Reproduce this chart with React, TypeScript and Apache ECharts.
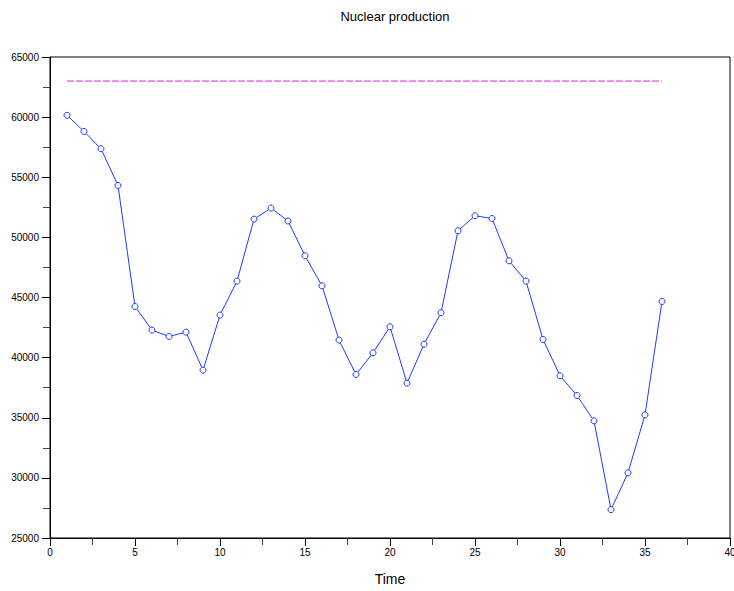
import React, { useEffect, useRef } from "react";
import * as echarts from "echarts";

const titleText = "Nuclear production";
const xName = "Time";
const times = [
  1, 2, 3, 4, 5, 6, 7, 8, 9, 10, 11, 12, 13, 14, 15, 16, 17, 18, 19, 20, 21, 22, 23, 24, 25, 26, 27, 28, 29,
  30, 31, 32, 33, 34, 35, 36,
];
const production = [
  60150, 58810, 57370, 54320, 44250, 42290, 41760, 42120, 38960, 43540, 46360, 51520, 52440, 51360, 48470,
  45970, 41460, 38600, 40400, 42560, 37880, 41120, 43730, 50550, 51800, 51570, 48050, 46360, 41510, 38490,
  36850, 34740, 27360, 30420, 35240, 44670,
];
const refLevel = 63000;
const refStart = 1;
const refEnd = 36;

export default function App() {
  const ref = useRef<HTMLDivElement>(null);
  useEffect(() => {
    if (!ref.current) return;
    const chart = echarts.init(ref.current, undefined, { renderer: "svg" });
    const font = "'Liberation Sans', Arial, Helvetica, sans-serif";
    chart.setOption({
      animation: false,
      backgroundColor: "#ffffff",
      title: {
        text: titleText,
        left: 390,
        textAlign: "center",
        top: 5,
        textStyle: { fontFamily: font, fontSize: 13, fontWeight: "normal", color: "#000" },
      },
      grid: {
        left: 50,
        top: 57,
        right: 4,
        bottom: 53,
        outerBoundsMode: "none",
        containLabel: false,
        show: true,
        borderColor: "#000",
        borderWidth: 1,
        backgroundColor: "transparent",
      },
      xAxis: {
        type: "value",
        min: 0,
        max: 40,
        interval: 5,
        name: xName,
        nameLocation: "middle",
        nameGap: 34,
        nameTextStyle: { fontFamily: font, fontSize: 14, color: "#000" },
        axisLine: { show: true, lineStyle: { color: "#000", width: 1 } },
        axisTick: { show: true, length: 8, lineStyle: { color: "#000" } },
        minorTick: { show: true, splitNumber: 2, length: 7, lineStyle: { color: "#444" } },
        splitLine: { show: false },
        axisLabel: { fontFamily: font, fontSize: 10, color: "#000", margin: 9 },
      },
      yAxis: {
        type: "value",
        min: 25000,
        max: 65000,
        interval: 5000,
        axisLine: { show: true, lineStyle: { color: "#000", width: 1 } },
        axisTick: { show: true, length: 8, lineStyle: { color: "#000" } },
        minorTick: { show: true, splitNumber: 2, length: 7, lineStyle: { color: "#444" } },
        splitLine: { show: false },
        axisLabel: {
          fontFamily: font,
          fontSize: 10,
          color: "#000",
          margin: 11,
          formatter: (v: number) => String(v),
        },
      },
      series: [
        {
          type: "line",
          data: [
            [refStart, refLevel],
            [refEnd, refLevel],
          ],
          symbol: "none",
          lineStyle: { color: "#e020e0", width: 1, type: [7, 2] },
          silent: true,
        },
        {
          type: "line",
          data: times.map((t, i) => [t, production[i]]),
          symbol: "circle",
          symbolSize: 6,
          lineStyle: { color: "#1a3cff", width: 1 },
          itemStyle: { color: "#ffffff", borderColor: "#1a3cff", borderWidth: 1 },
        },
      ],
    });
    return () => chart.dispose();
  }, []);
  return (
    <div
      ref={ref}
      style={{ position: "fixed", left: 0, top: 0, width: 734, height: 591 }}
    />
  );
}
